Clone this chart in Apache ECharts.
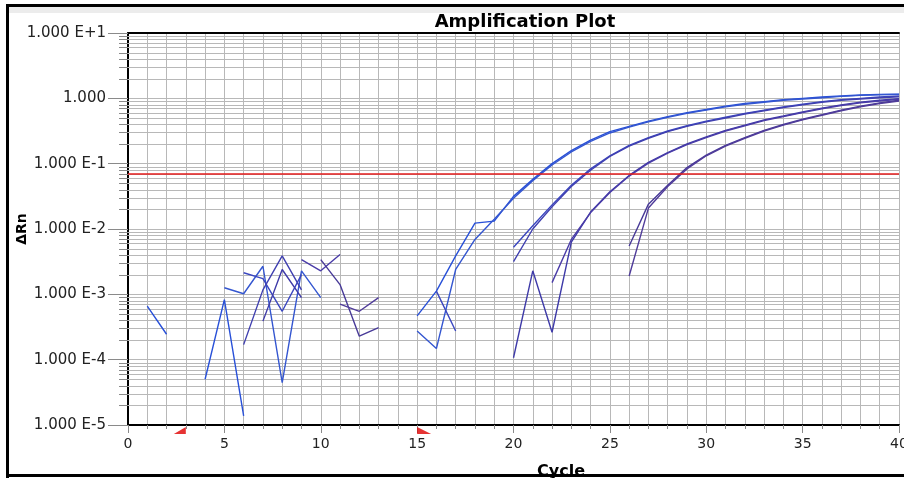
<!DOCTYPE html>
<html><head><meta charset="utf-8">
<script src="https://cdn.jsdelivr.net/npm/echarts@6/dist/echarts.min.js"></script>
<style>html,body{margin:0;padding:0;background:#fff;overflow:hidden;width:904px;height:478px}#c{width:904px;height:478px;display:block}</style>
</head><body><div id="c"></div>
<script>
// ---- data ----
const cycles = [1,2,3,4,5,6,7,8,9,10,11,12,13,14,15,16,17,18,19,20,21,22,23,24,25,26,27,28,29,30,31,32,33,34,35,36,37,38,39,40];
const yTickLabels = ['1.000 E-5','1.000 E-4','1.000 E-3','1.000 E-2','1.000 E-1','1.000','1.000 E+1'];
const threshold = 0.071;
const baselineStart = 3;
const baselineEnd = 15;
const seriesNames = ['A1','A2','B1','B2','C1','C2','D1','D2'];
const A1 = [0.000661,0.000245,null,0.0000501,0.000832,0.0000138,null,null,null,null,null,null,null,null,
  0.000468,0.00112,0.00389,0.0123,0.0132,0.0316,0.0575,0.100,0.158,0.229,0.309,0.372,0.447,0.525,0.603,0.676,0.759,0.832,0.891,0.955,1.00,1.047,1.084,1.122,1.148,1.161];
const A2 = [null,null,null,null,0.00126,0.00102,0.00269,0.0000447,0.00229,0.000891,null,null,null,null,
  0.000275,0.000148,0.00240,0.00692,0.0141,0.0295,0.0550,0.0955,0.151,0.219,0.295,0.363,0.437,0.513,0.589,0.661,0.741,0.813,0.871,0.933,0.977,1.023,1.072,1.109,1.135,1.148];
const B1 = [null,null,null,null,null,0.00214,0.00174,0.000550,0.00200,null,null,null,null,null,null,0.00112,0.000275,null,null,
  0.00525,0.0112,0.0234,0.0468,0.0832,0.132,0.191,0.251,0.316,0.380,0.447,0.513,0.589,0.661,0.741,0.813,0.891,0.955,1.00,1.047,1.084];
const B2 = [null,null,null,null,null,0.000170,0.00117,0.00389,0.00117,null,null,null,null,null,null,null,null,null,null,
  0.00316,0.0100,0.0219,0.0447,0.0794,0.129,0.186,0.245,0.309,0.372,0.437,0.501,0.575,0.646,0.724,0.794,0.871,0.933,0.977,1.023,1.060];
const C1 = [null,null,null,null,null,null,0.000389,0.00240,0.000891,null,null,null,null,null,null,null,null,null,null,
  0.000107,0.00229,0.000263,0.00631,0.0182,0.0372,0.0661,0.105,0.148,0.200,0.257,0.324,0.389,0.468,0.537,0.617,0.708,0.794,0.871,0.933,0.989];
const C2 = [null,null,null,null,null,null,null,null,0.00339,0.00229,0.00407,null,null,null,null,null,null,null,null,null,null,
  0.00151,0.00692,0.0178,0.0363,0.0646,0.102,0.145,0.195,0.251,0.316,0.380,0.457,0.525,0.603,0.692,0.776,0.851,0.912,0.966];
const D1 = [null,null,null,null,null,null,null,null,null,0.00339,0.00141,0.000229,0.000309,null,null,null,null,null,null,null,null,null,null,null,null,
  0.00550,0.0240,0.0468,0.0871,0.135,0.191,0.251,0.324,0.398,0.479,0.562,0.661,0.759,0.851,0.933];
const D2 = [null,null,null,null,null,null,null,null,null,null,0.000708,0.000550,0.000891,null,null,null,null,null,null,null,null,null,null,null,null,
  0.00191,0.0209,0.0447,0.0832,0.132,0.186,0.245,0.316,0.389,0.468,0.550,0.646,0.741,0.832,0.912];
const seriesValues = [A1,A2,B1,B2,C1,C2,D1,D2];
const seriesColors = ['#2850d8','#3456d0','#3a46c0','#4040b0','#3e3aa8','#4a3ca8','#483a98','#503c9a'];

// ---- chart ----
const minorValues = [];
for (let k = -5; k < 1; k++) for (let m = 2; m <= 9; m++) minorValues.push(m * Math.pow(10, k));

const chart = echarts.init(document.getElementById('c'), null, {renderer: 'canvas', width: 904, height: 478});
const labelFont = 'DejaVu Sans';
const series = seriesValues.map((arr, i) => ({
  name: seriesNames[i], type: 'line', symbol: 'none', showSymbol: false, connectNulls: false,
  lineStyle: {color: seriesColors[i], width: 1.4}, itemStyle: {color: seriesColors[i]},
  z: 3, emphasis: {disabled: true},
  data: cycles.map((c, j) => [c, arr[j] === null ? null : arr[j]])
}));
series[0].markLine = {
  silent: true, symbol: ['none', 'none'], label: {show: false}, animation: false,
  lineStyle: {color: '#e41c1c', width: 1.5, type: 'solid'},
  emphasis: {disabled: true},
  data: [{yAxis: threshold}]
};
series.push({
  type: 'custom', silent: true, z: 1, clip: false,
  data: minorValues.map(v => [0, v]), encode: {x: 0, y: 1},
  renderItem: (params, api) => {
    const v = api.value(1);
    const p = api.coord([0, v]);
    const q = api.coord([40, v]);
    const y = Math.round(p[1]) + 0.5;
    return {type: 'group', children: [
      {type: 'line', shape: {x1: p[0], y1: y, x2: q[0], y2: y}, style: {stroke: '#b8b8b8', lineWidth: 1}},
      {type: 'line', shape: {x1: p[0] - 9, y1: y, x2: p[0], y2: y}, style: {stroke: '#8a8a8a', lineWidth: 1}}
    ]};
  }
});
series.push({
  type: 'scatter', silent: true, clip: false, z: 5,
  symbol: 'path://M12,0 L12,7 L0,7 Z', symbolSize: [12, 7], symbolOffset: [-6, 5.5],
  itemStyle: {color: '#e00000'}, data: [[baselineStart, 1e-5]]
});
series.push({
  type: 'scatter', silent: true, clip: false, z: 5,
  symbol: 'path://M0,0 L0,7 L14,7 Z', symbolSize: [14, 7], symbolOffset: [7, 5.5],
  itemStyle: {color: '#e00000'}, data: [[baselineEnd, 1e-5]]
});

chart.setOption({
  animation: false,
  backgroundColor: '#ffffff',
  grid: {left: 128, top: 33, right: 5, bottom: 53, containLabel: false, outerBoundsMode: 'none'},
  xAxis: [{
    type: 'value', min: 0, max: 40, interval: 5,
    axisLine: {lineStyle: {color: '#000', width: 2}},
    axisTick: {length: 8, lineStyle: {color: '#8a8a8a'}},
    minorTick: {show: true, splitNumber: 5, length: 4, lineStyle: {color: '#8a8a8a'}},
    splitLine: {show: true, lineStyle: {color: '#b8b8b8', width: 1}},
    minorSplitLine: {show: true, lineStyle: {color: '#b8b8b8', width: 1}},
    axisLabel: {fontSize: 14, color: '#222', margin: 12, fontFamily: labelFont}
  }, {
    type: 'value', position: 'top', min: 0, max: 40, interval: 5,
    axisLine: {show: true, lineStyle: {color: '#000', width: 2}},
    axisTick: {show: false}, axisLabel: {show: false}, splitLine: {show: false}
  }],
  yAxis: {
    type: 'log', logBase: 10, min: 1e-5, max: 10,
    axisLine: {show: true, lineStyle: {color: '#000', width: 2}},
    axisTick: {show: true, length: 20, lineStyle: {color: '#8a8a8a'}},
    splitLine: {show: true, lineStyle: {color: '#b8b8b8', width: 1}},
    axisLabel: {fontSize: 15, color: '#222', margin: 22, fontFamily: labelFont,
      formatter: v => yTickLabels[Math.round(Math.log10(v)) + 5]}
  },
  graphic: [
    {type: 'rect', z: 0, silent: true, shape: {x: 8, y: 7, width: 900, height: 6}, style: {fill: '#ececec'}},
    {type: 'text', z: 10, silent: true, x: 525, y: 22,
      style: {text: 'Amplification Plot', textAlign: 'center', textVerticalAlign: 'middle',
        font: 'bold 18px "DejaVu Sans"', fill: '#000'}},
    {type: 'text', z: 10, silent: true, x: 22, y: 229, rotation: Math.PI / 2,
      style: {text: 'ΔRn', textAlign: 'center', textVerticalAlign: 'middle',
        font: 'bold 14px "DejaVu Sans"', fill: '#000'}},
    {type: 'text', z: 10, silent: true, x: 561, y: 472,
      style: {text: 'Cycle', textAlign: 'center', textVerticalAlign: 'middle',
        font: 'bold 16px "DejaVu Sans"', fill: '#000'}},
    {type: 'line', z: 100, silent: true, shape: {x1: 7.5, y1: 4, x2: 7.5, y2: 478}, style: {stroke: '#000', lineWidth: 3}},
    {type: 'line', z: 100, silent: true, shape: {x1: 6, y1: 5.5, x2: 904, y2: 5.5}, style: {stroke: '#000', lineWidth: 3}},
    {type: 'line', z: 100, silent: true, shape: {x1: 6, y1: 475.5, x2: 904, y2: 475.5}, style: {stroke: '#000', lineWidth: 3}}
  ],
  series: series
});
</script></body></html>
